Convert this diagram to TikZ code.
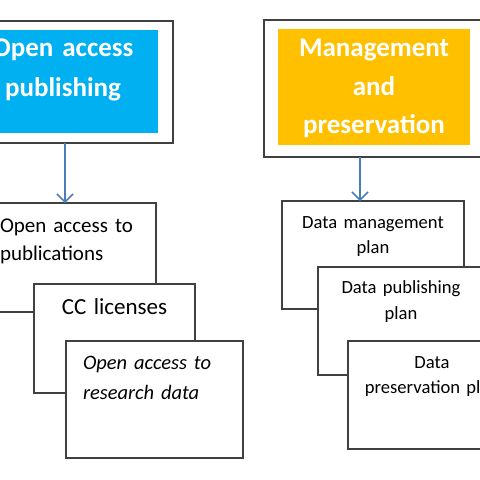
\documentclass[tikz,border=0pt]{standalone}
\usepackage{fontspec}
\setmainfont{Carlito}
\usetikzlibrary{positioning}
\usetikzlibrary{calc}
\usetikzlibrary{arrows.meta}

\definecolor{oablue}{HTML}{00B0F0}
\definecolor{mgorange}{HTML}{FFC000}
\definecolor{flowblue}{HTML}{4A7EBB}
\definecolor{linegray}{HTML}{404040}

\begin{document}
\begin{tikzpicture}[
    x=1pt, y=-1pt,
    every node/.style={inner sep=0pt, outer sep=0pt},
    frame/.style={draw=linegray, line width=1.3pt, fill=white, minimum width=220pt, minimum height=122pt},
    header/.style={text=white, align=center},
    item/.style={draw=linegray, line width=1.2pt, fill=white, anchor=north west, text=black},
    flow/.style={draw=flowblue, line width=1.5pt, -{Straight Barb[length=8pt, width=16pt]}}
  ]
  \useasboundingbox (0,0) rectangle (480,480);
  \clip (0,0) rectangle (480,480);

  % top frames
  \node[frame] (oaframe) at (63,82) {};
  \node[frame, minimum height=137pt] (mgframe) at (374,88.5) {};
  \node[header, fill=oablue, font=\fontsize{27}{40}\selectfont\bfseries, text width=190pt, text height=26pt, text depth=77pt] (oa) at (63,81.5) {Open access\\ publishing};
  \node[header, fill=mgorange, font=\fontsize{27}{38.5}\selectfont\bfseries, text width=192pt, text height=27.5pt, text depth=88.5pt] (mg) at (374,87) {Management\\ and\\ preservation};

  % left stack
  \node[item, font=\fontsize{21}{28}\selectfont, align=left, text width=136pt, inner xsep=20pt, text height=29pt, text depth=80pt] (oapubs) at (-20,203) {Open access to\\ publications};
  \node[item, font=\fontsize{23}{28}\selectfont, align=center, text width=161pt, text height=30.5pt, text depth=78.5pt] (cclic) at (34,284) {CC licenses};
  \node[item, font=\fontsize{20.5}{30}\selectfont\itshape, align=left, text width=143pt, inner xsep=17pt, text height=28.8pt, text depth=88.2pt] (oadata) at (66,341) {Open access to\\ research data};

  % right stack
  \node[item, font=\fontsize{18.6}{25}\selectfont, align=center, text width=182pt, text height=27.5pt, text depth=80.5pt] (dmp) at (282,201) {Data management\\ plan};
  \node[item, font=\fontsize{18.6}{26}\selectfont, align=center, text width=166pt, text height=26.5pt, text depth=81.5pt] (dpp) at (318,267) {Data publishing\\ plan};
  \node[item, font=\fontsize{18.6}{25}\selectfont, align=center, text width=168pt, text height=27.5pt, text depth=80.5pt] (dprp) at (348,341) {Data\\ preservation plan};

  \draw[flow] ([xshift=-3pt]oapubs.north |- oaframe.south) -- ([xshift=-3pt]oapubs.north);
  \draw[flow] ([xshift=-13pt]dmp.north |- mgframe.south) -- ([xshift=-13pt]dmp.north);
\end{tikzpicture}
\end{document}
